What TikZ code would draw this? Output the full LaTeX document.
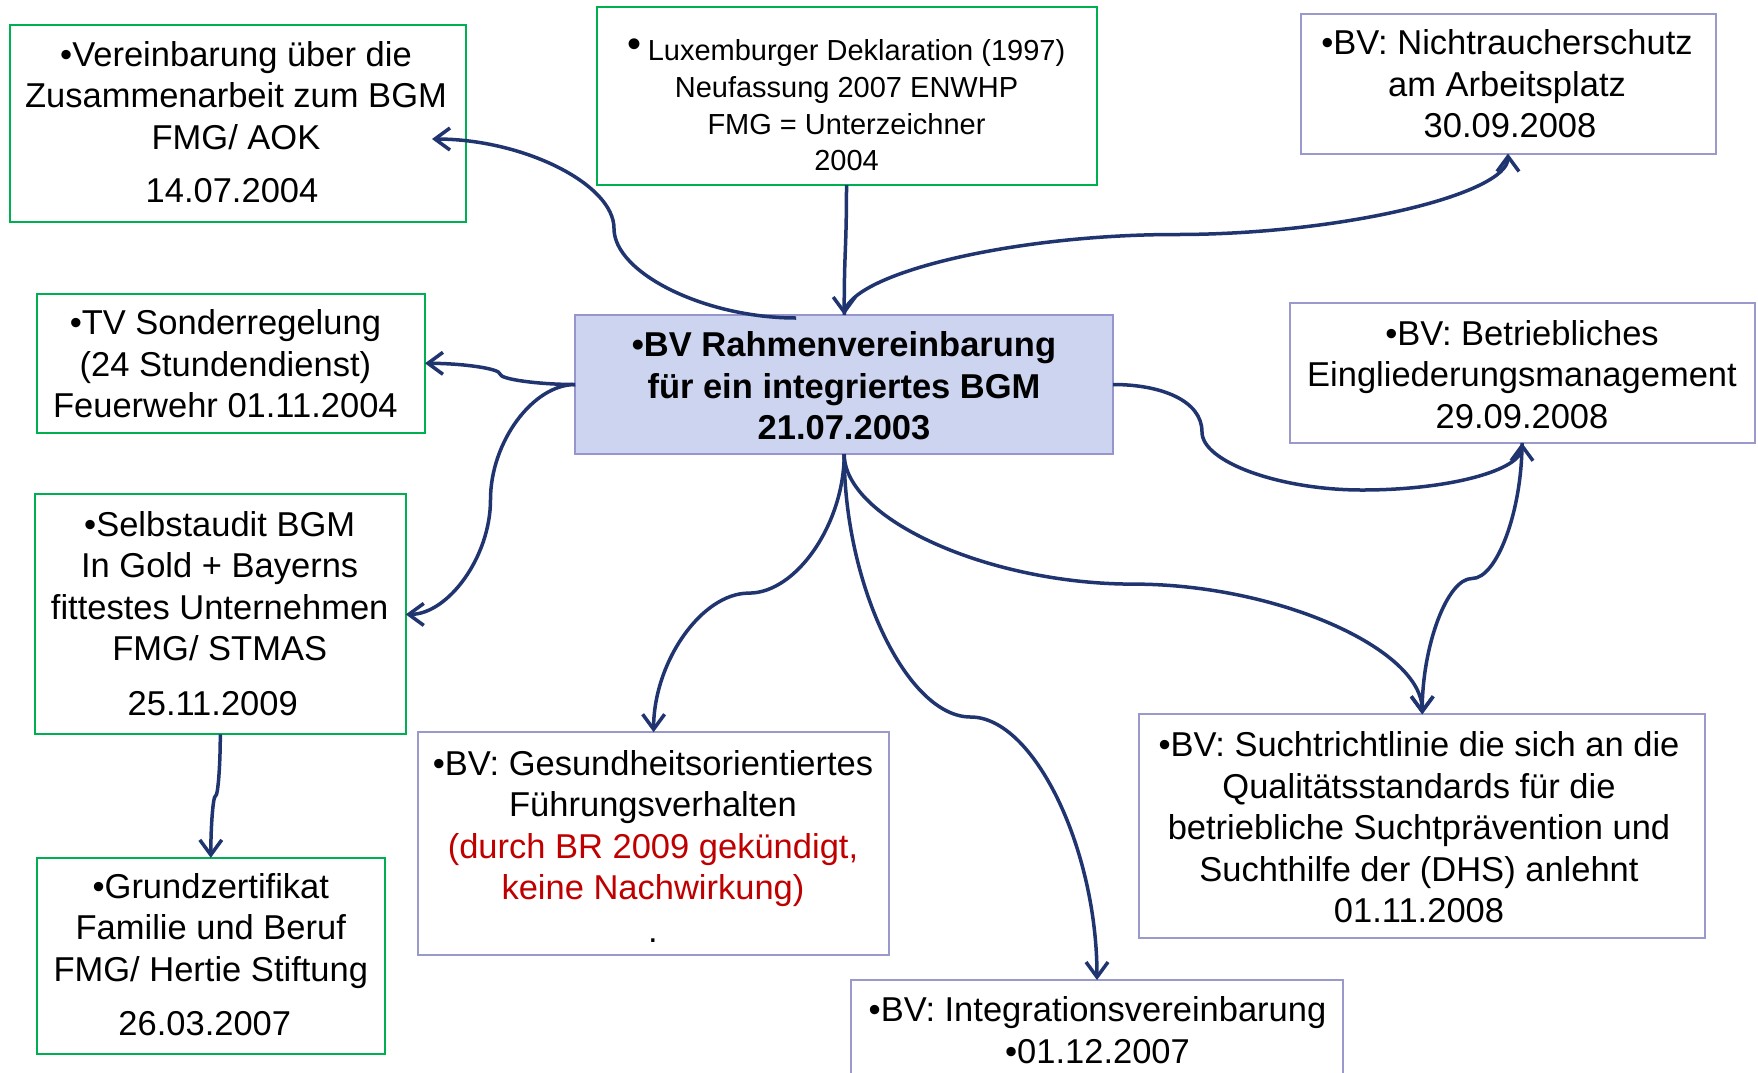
\documentclass[tikz,border=0pt]{standalone}
\usepackage{fontspec}
\setmainfont{Liberation Sans}
\usetikzlibrary{arrows.meta,calc}
\definecolor{gbord}{RGB}{0,176,80}
\definecolor{pbord}{RGB}{153,153,204}
\definecolor{cfill}{RGB}{205,212,240}
\definecolor{cbord}{RGB}{150,150,205}
\definecolor{navy}{RGB}{32,52,112}
\definecolor{redtxt}{RGB}{192,0,0}
\tikzset{
  gbox/.style={draw=gbord, line width=2pt, inner sep=0pt, outer sep=0pt},
  pbox/.style={draw=pbord, line width=2pt, inner sep=0pt, outer sep=0pt},
  cbox/.style={draw=cbord, fill=cfill, line width=2pt, inner sep=0pt, outer sep=0pt},
  txt/.style={align=center, inner sep=0pt, font=\fontsize{34.5pt}{41.5pt}\selectfont},
  smalltxt/.style={align=center, inner sep=0pt, font=\fontsize{29pt}{36.6pt}\selectfont},
  conn/.style={draw=navy, line width=3.5pt, -{Straight Barb[length=15pt,width=22pt]}},
}
\begin{document}
\begin{tikzpicture}[x=1pt,y=-1pt]
\useasboundingbox (0,0) rectangle (1758,1072);
\clip (0,0) rectangle (1758,1072);
\fill[white] (0,0) rectangle (1758,1072);

% boxes
\node[gbox, minimum width=456pt, minimum height=197pt] (A) at (238,123.5) {};
\node[gbox, minimum width=500pt, minimum height=178pt] (B) at (846.5,96) {};
\node[pbox, minimum width=415pt, minimum height=140pt] (C) at (1508,83.5) {};
\node[gbox, minimum width=388pt, minimum height=139pt] (D) at (231,363.3) {};
\node[cbox, minimum width=538pt, minimum height=139pt] (E) at (844.2,384.5) {};
\node[pbox, minimum width=465pt, minimum height=140pt] (F) at (1522,372.8) {};
\node[gbox, minimum width=371pt, minimum height=240pt] (G) at (220.3,614.4) {};
\node[pbox, minimum width=471pt, minimum height=223pt] (H) at (653.6,843.7) {};
\node[pbox, minimum width=566pt, minimum height=224pt] (I) at (1422.2,826.3) {};
\node[gbox, minimum width=347.6pt, minimum height=196pt] (J) at (210.8,955.8) {};
\node[pbox, minimum width=492pt, minimum height=140pt] (K) at (1097,1050) {};

% texts
\node[txt] (At) at (236,122) {•Vereinbarung über die\\Zusammenarbeit zum BGM\\FMG/ AOK\\[12pt]\hspace*{-8pt}14.07.2004};
\node[smalltxt] (Bt) at (846.5,105) {\raisebox{3pt}{\fontsize{40pt}{40pt}\selectfont •}\hspace{6pt}Luxemburger Deklaration (1997)\\Neufassung 2007 ENWHP\\FMG = Unterzeichner\\2004};
\node[txt] (Ct) at (1507,84) {•BV: Nichtraucherschutz\\am Arbeitsplatz\\\hspace*{6pt}30.09.2008};
\node[txt] (Dt) at (225.4,364) {•TV Sonderregelung\\(24 Stundendienst)\\Feuerwehr 01.11.2004};
\node[txt, font=\fontsize{34.5pt}{41.5pt}\selectfont\bfseries] (Et) at (844,385.7) {•BV Rahmenvereinbarung\\für ein integriertes BGM\\21.07.2003};
\node[txt] (Ft) at (1522,374.5) {•BV: Betriebliches\\Eingliederungsmanagement\\29.09.2008};
\node[txt] (Gt) at (219.7,613.3) {•Selbstaudit BGM\\In Gold + Bayerns\\fittestes Unternehmen\\FMG/ STMAS\\[13pt]\hspace*{-14pt}25.11.2009};
\node[txt] (Ht) at (653,846) {•BV: Gesundheitsorientiertes\\Führungsverhalten\\\textcolor{redtxt}{(durch BR 2009 gekündigt,}\\\textcolor{redtxt}{keine Nachwirkung)}\\[1pt].};
\node[txt] (It) at (1419,827.5) {•BV: Suchtrichtlinie die sich an die\\Qualitätsstandards für die\\betriebliche Suchtprävention und\\Suchthilfe der (DHS) anlehnt\\01.11.2008};
\node[txt] (Jt) at (210.8,954.7) {•Grundzertifikat\\Familie und Beruf\\FMG/ Hertie Stiftung\\[13pt]\hspace*{-12pt}26.03.2007};
\node[txt] (Kt) at (1097.5,1030) {•BV: Integrationsvereinbarung\\•01.12.2007};

% connectors
\draw[conn] ($(E.north)+(-48,3)$) .. controls (705,318) and (614,273) .. (614,228.5)
   .. controls (614,184) and (523,139) .. ($(A.east)+(-34,15.5)$);
\draw[conn] (B.south) .. controls (846.5,250) and (844.2,250) .. (E.north);
\draw[conn] (E.north) .. controls (844.2,275) and (1010,234.5) .. (1176,234.5)
   .. controls (1342,234.5) and (1508,194) .. (C.south);
\draw[conn] (E.west) .. controls (537.6,384.5) and (500,379.2) .. (500,374)
   .. controls (500,368.6) and (462.5,363.3) .. (D.east);
\draw[conn] (E.west) .. controls (533,384.5) and (490.5,442) .. (490.5,499.5)
   .. controls (490.5,557) and (448,614.4) .. (G.east);
\draw[conn] (G.south) .. controls (220.3,765) and (218,796) .. (215.5,796)
   .. controls (213,796) and (210.8,827) .. (J.north);
\draw[conn] (E.south) .. controls (844.2,523.5) and (796.5,593.1) .. (748.9,593.1)
   .. controls (701.2,593.1) and (653.6,662.6) .. (H.north);
\draw[conn] (E.south) .. controls (844.2,585.5) and (907.4,717) .. (970.6,717)
   .. controls (1033.8,717) and (1097,848.5) .. (K.north);
\draw[conn] (E.south) .. controls (844.2,519) and (988.7,584.1) .. (1133.2,584.1)
   .. controls (1277.7,584.1) and (1422.2,649.2) .. (I.north);
\draw[conn] (E.east) .. controls (1160,384.5) and (1202,400) .. (1202,432)
   .. controls (1202,462) and (1280,490) .. (1362,490)
   .. controls (1450,490) and (1522,470) .. (F.south);
\draw[conn] (F.south) .. controls (1522,510.7) and (1497,578.5) .. (1472,578.5)
   .. controls (1447,578.5) and (1422.2,646.4) .. (I.north);
\end{tikzpicture}
\end{document}
